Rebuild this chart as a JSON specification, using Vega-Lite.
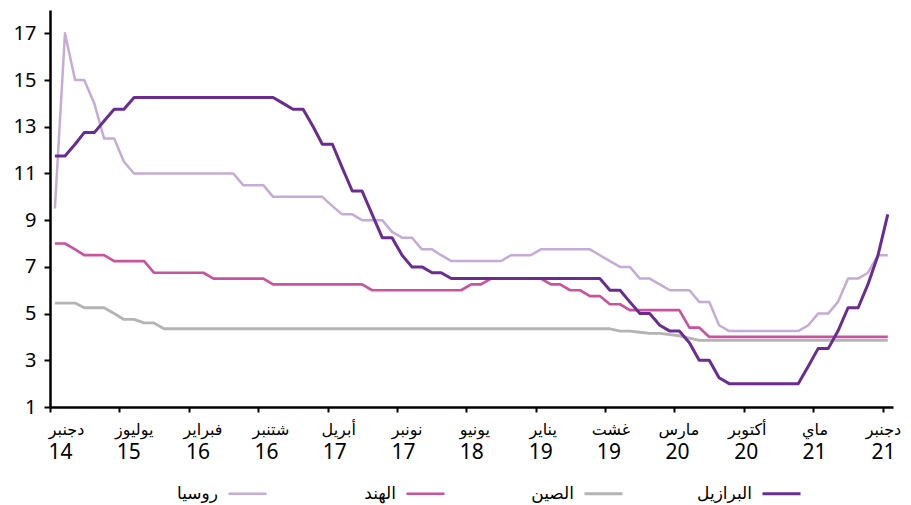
{
  "$schema": "https://vega.github.io/schema/vega-lite/v6.json",
  "width": 843,
  "height": 397,
  "autosize": {"type": "none"},
  "padding": {"left": 50, "top": 10, "right": 18, "bottom": 98},
  "background": "white",
  "config": {"view": {"stroke": null}, "font": "Noto Sans, DejaVu Sans"},
  "data": {"values": [
    {"d": "2014-12-16", "روسيا": 9.5, "الهند": 8.0, "الصين": 5.45, "البرازيل": 11.75},
    {"d": "2015-01-16", "روسيا": 17, "الهند": 8.0, "الصين": 5.45, "البرازيل": 11.75},
    {"d": "2015-02-16", "روسيا": 15, "الهند": 7.75, "الصين": 5.45, "البرازيل": 12.25},
    {"d": "2015-03-16", "روسيا": 15, "الهند": 7.5, "الصين": 5.25, "البرازيل": 12.75},
    {"d": "2015-04-16", "روسيا": 14, "الهند": 7.5, "الصين": 5.25, "البرازيل": 12.75},
    {"d": "2015-05-16", "روسيا": 12.5, "الهند": 7.5, "الصين": 5.25, "البرازيل": 13.25},
    {"d": "2015-06-16", "روسيا": 12.5, "الهند": 7.25, "الصين": 5.0, "البرازيل": 13.75},
    {"d": "2015-07-16", "روسيا": 11.5, "الهند": 7.25, "الصين": 4.75, "البرازيل": 13.75},
    {"d": "2015-08-16", "روسيا": 11, "الهند": 7.25, "الصين": 4.75, "البرازيل": 14.25},
    {"d": "2015-09-16", "روسيا": 11, "الهند": 7.25, "الصين": 4.6, "البرازيل": 14.25},
    {"d": "2015-10-16", "روسيا": 11, "الهند": 6.75, "الصين": 4.6, "البرازيل": 14.25},
    {"d": "2015-11-16", "روسيا": 11, "الهند": 6.75, "الصين": 4.35, "البرازيل": 14.25},
    {"d": "2015-12-16", "روسيا": 11, "الهند": 6.75, "الصين": 4.35, "البرازيل": 14.25},
    {"d": "2016-01-16", "روسيا": 11, "الهند": 6.75, "الصين": 4.35, "البرازيل": 14.25},
    {"d": "2016-02-16", "روسيا": 11, "الهند": 6.75, "الصين": 4.35, "البرازيل": 14.25},
    {"d": "2016-03-16", "روسيا": 11, "الهند": 6.75, "الصين": 4.35, "البرازيل": 14.25},
    {"d": "2016-04-16", "روسيا": 11, "الهند": 6.5, "الصين": 4.35, "البرازيل": 14.25},
    {"d": "2016-05-16", "روسيا": 11, "الهند": 6.5, "الصين": 4.35, "البرازيل": 14.25},
    {"d": "2016-06-16", "روسيا": 11, "الهند": 6.5, "الصين": 4.35, "البرازيل": 14.25},
    {"d": "2016-07-16", "روسيا": 10.5, "الهند": 6.5, "الصين": 4.35, "البرازيل": 14.25},
    {"d": "2016-08-16", "روسيا": 10.5, "الهند": 6.5, "الصين": 4.35, "البرازيل": 14.25},
    {"d": "2016-09-16", "روسيا": 10.5, "الهند": 6.5, "الصين": 4.35, "البرازيل": 14.25},
    {"d": "2016-10-16", "روسيا": 10, "الهند": 6.25, "الصين": 4.35, "البرازيل": 14.25},
    {"d": "2016-11-16", "روسيا": 10, "الهند": 6.25, "الصين": 4.35, "البرازيل": 14.0},
    {"d": "2016-12-16", "روسيا": 10, "الهند": 6.25, "الصين": 4.35, "البرازيل": 13.75},
    {"d": "2017-01-16", "روسيا": 10, "الهند": 6.25, "الصين": 4.35, "البرازيل": 13.75},
    {"d": "2017-02-16", "روسيا": 10, "الهند": 6.25, "الصين": 4.35, "البرازيل": 13.0},
    {"d": "2017-03-16", "روسيا": 10, "الهند": 6.25, "الصين": 4.35, "البرازيل": 12.25},
    {"d": "2017-04-16", "روسيا": 9.6, "الهند": 6.25, "الصين": 4.35, "البرازيل": 12.25},
    {"d": "2017-05-16", "روسيا": 9.25, "الهند": 6.25, "الصين": 4.35, "البرازيل": 11.25},
    {"d": "2017-06-16", "روسيا": 9.25, "الهند": 6.25, "الصين": 4.35, "البرازيل": 10.25},
    {"d": "2017-07-16", "روسيا": 9.0, "الهند": 6.25, "الصين": 4.35, "البرازيل": 10.25},
    {"d": "2017-08-16", "روسيا": 9.0, "الهند": 6.0, "الصين": 4.35, "البرازيل": 9.25},
    {"d": "2017-09-16", "روسيا": 9.0, "الهند": 6.0, "الصين": 4.35, "البرازيل": 8.25},
    {"d": "2017-10-16", "روسيا": 8.5, "الهند": 6.0, "الصين": 4.35, "البرازيل": 8.25},
    {"d": "2017-11-16", "روسيا": 8.25, "الهند": 6.0, "الصين": 4.35, "البرازيل": 7.5},
    {"d": "2017-12-16", "روسيا": 8.25, "الهند": 6.0, "الصين": 4.35, "البرازيل": 7.0},
    {"d": "2018-01-16", "روسيا": 7.75, "الهند": 6.0, "الصين": 4.35, "البرازيل": 7.0},
    {"d": "2018-02-16", "روسيا": 7.75, "الهند": 6.0, "الصين": 4.35, "البرازيل": 6.75},
    {"d": "2018-03-16", "روسيا": 7.5, "الهند": 6.0, "الصين": 4.35, "البرازيل": 6.75},
    {"d": "2018-04-16", "روسيا": 7.25, "الهند": 6.0, "الصين": 4.35, "البرازيل": 6.5},
    {"d": "2018-05-16", "روسيا": 7.25, "الهند": 6.0, "الصين": 4.35, "البرازيل": 6.5},
    {"d": "2018-06-16", "روسيا": 7.25, "الهند": 6.25, "الصين": 4.35, "البرازيل": 6.5},
    {"d": "2018-07-16", "روسيا": 7.25, "الهند": 6.25, "الصين": 4.35, "البرازيل": 6.5},
    {"d": "2018-08-16", "روسيا": 7.25, "الهند": 6.5, "الصين": 4.35, "البرازيل": 6.5},
    {"d": "2018-09-16", "روسيا": 7.25, "الهند": 6.5, "الصين": 4.35, "البرازيل": 6.5},
    {"d": "2018-10-16", "روسيا": 7.5, "الهند": 6.5, "الصين": 4.35, "البرازيل": 6.5},
    {"d": "2018-11-16", "روسيا": 7.5, "الهند": 6.5, "الصين": 4.35, "البرازيل": 6.5},
    {"d": "2018-12-16", "روسيا": 7.5, "الهند": 6.5, "الصين": 4.35, "البرازيل": 6.5},
    {"d": "2019-01-16", "روسيا": 7.75, "الهند": 6.5, "الصين": 4.35, "البرازيل": 6.5},
    {"d": "2019-02-16", "روسيا": 7.75, "الهند": 6.25, "الصين": 4.35, "البرازيل": 6.5},
    {"d": "2019-03-16", "روسيا": 7.75, "الهند": 6.25, "الصين": 4.35, "البرازيل": 6.5},
    {"d": "2019-04-16", "روسيا": 7.75, "الهند": 6.0, "الصين": 4.35, "البرازيل": 6.5},
    {"d": "2019-05-16", "روسيا": 7.75, "الهند": 6.0, "الصين": 4.35, "البرازيل": 6.5},
    {"d": "2019-06-16", "روسيا": 7.75, "الهند": 5.75, "الصين": 4.35, "البرازيل": 6.5},
    {"d": "2019-07-16", "روسيا": 7.5, "الهند": 5.75, "الصين": 4.35, "البرازيل": 6.5},
    {"d": "2019-08-16", "روسيا": 7.25, "الهند": 5.4, "الصين": 4.35, "البرازيل": 6.0},
    {"d": "2019-09-16", "روسيا": 7.0, "الهند": 5.4, "الصين": 4.25, "البرازيل": 6.0},
    {"d": "2019-10-16", "روسيا": 7.0, "الهند": 5.15, "الصين": 4.25, "البرازيل": 5.5},
    {"d": "2019-11-16", "روسيا": 6.5, "الهند": 5.15, "الصين": 4.2, "البرازيل": 5.0},
    {"d": "2019-12-16", "روسيا": 6.5, "الهند": 5.15, "الصين": 4.15, "البرازيل": 5.0},
    {"d": "2020-01-16", "روسيا": 6.25, "الهند": 5.15, "الصين": 4.15, "البرازيل": 4.5},
    {"d": "2020-02-16", "روسيا": 6.0, "الهند": 5.15, "الصين": 4.1, "البرازيل": 4.25},
    {"d": "2020-03-16", "روسيا": 6.0, "الهند": 5.15, "الصين": 4.05, "البرازيل": 4.25},
    {"d": "2020-04-16", "روسيا": 6.0, "الهند": 4.4, "الصين": 3.95, "البرازيل": 3.75},
    {"d": "2020-05-16", "روسيا": 5.5, "الهند": 4.4, "الصين": 3.85, "البرازيل": 3.0},
    {"d": "2020-06-16", "روسيا": 5.5, "الهند": 4.0, "الصين": 3.85, "البرازيل": 3.0},
    {"d": "2020-07-16", "روسيا": 4.5, "الهند": 4.0, "الصين": 3.85, "البرازيل": 2.25},
    {"d": "2020-08-16", "روسيا": 4.25, "الهند": 4.0, "الصين": 3.85, "البرازيل": 2.0},
    {"d": "2020-09-16", "روسيا": 4.25, "الهند": 4.0, "الصين": 3.85, "البرازيل": 2.0},
    {"d": "2020-10-16", "روسيا": 4.25, "الهند": 4.0, "الصين": 3.85, "البرازيل": 2.0},
    {"d": "2020-11-16", "روسيا": 4.25, "الهند": 4.0, "الصين": 3.85, "البرازيل": 2.0},
    {"d": "2020-12-16", "روسيا": 4.25, "الهند": 4.0, "الصين": 3.85, "البرازيل": 2.0},
    {"d": "2021-01-16", "روسيا": 4.25, "الهند": 4.0, "الصين": 3.85, "البرازيل": 2.0},
    {"d": "2021-02-16", "روسيا": 4.25, "الهند": 4.0, "الصين": 3.85, "البرازيل": 2.0},
    {"d": "2021-03-16", "روسيا": 4.25, "الهند": 4.0, "الصين": 3.85, "البرازيل": 2.0},
    {"d": "2021-04-16", "روسيا": 4.5, "الهند": 4.0, "الصين": 3.85, "البرازيل": 2.75},
    {"d": "2021-05-16", "روسيا": 5.0, "الهند": 4.0, "الصين": 3.85, "البرازيل": 3.5},
    {"d": "2021-06-16", "روسيا": 5.0, "الهند": 4.0, "الصين": 3.85, "البرازيل": 3.5},
    {"d": "2021-07-16", "روسيا": 5.5, "الهند": 4.0, "الصين": 3.85, "البرازيل": 4.25},
    {"d": "2021-08-16", "روسيا": 6.5, "الهند": 4.0, "الصين": 3.85, "البرازيل": 5.25},
    {"d": "2021-09-16", "روسيا": 6.5, "الهند": 4.0, "الصين": 3.85, "البرازيل": 5.25},
    {"d": "2021-10-16", "روسيا": 6.75, "الهند": 4.0, "الصين": 3.85, "البرازيل": 6.25},
    {"d": "2021-11-16", "روسيا": 7.5, "الهند": 4.0, "الصين": 3.85, "البرازيل": 7.5},
    {"d": "2021-12-16", "روسيا": 7.5, "الهند": 4.0, "الصين": 3.85, "البرازيل": 9.25}
  ]},
  "transform": [{"fold": ["روسيا", "الهند", "الصين", "البرازيل"], "as": ["s", "v"]}],
  "resolve": {"axis": {"x": "independent"}},
  "layer": [
    {
      "mark": {"type": "line", "strokeJoin": "round"},
      "encoding": {
        "x": {
          "field": "d", "type": "temporal",
          "scale": {"type": "utc", "domain": [{"year": 2014, "month": 12, "date": 1, "utc": true}, {"year": 2022, "month": 1, "date": 1, "utc": true}]},
          "axis": {
            "orient": "bottom", "title": null, "grid": false,
            "values": [
              {"year": 2014, "month": 12, "date": 1, "utc": true},
              {"year": 2015, "month": 7, "date": 1, "utc": true},
              {"year": 2016, "month": 2, "date": 1, "utc": true},
              {"year": 2016, "month": 9, "date": 1, "utc": true},
              {"year": 2017, "month": 4, "date": 1, "utc": true},
              {"year": 2017, "month": 11, "date": 1, "utc": true},
              {"year": 2018, "month": 6, "date": 1, "utc": true},
              {"year": 2019, "month": 1, "date": 1, "utc": true},
              {"year": 2019, "month": 8, "date": 1, "utc": true},
              {"year": 2020, "month": 3, "date": 1, "utc": true},
              {"year": 2020, "month": 10, "date": 1, "utc": true},
              {"year": 2021, "month": 5, "date": 1, "utc": true},
              {"year": 2021, "month": 12, "date": 1, "utc": true}
            ],
            "labelExpr": "['يناير','فبراير','مارس','أبريل','ماي','يونيو','يوليوز','غشت','شتنبر','أكتوبر','نونبر','دجنبر'][utcmonth(datum.value)]",
            "labelOffset": {"condition": {"test": "datum.value < 0", "value": 0}, "expr": "16 * (1 - (datum.value - 1417392000000) / (1638316800000 - 1417392000000))"},
            "labelFlush": false, "labelOverlap": false, "labelAngle": 0,
            "labelFontSize": 16, "labelColor": "black", "labelBaseline": "alphabetic", "labelPadding": 22,
            "domainColor": "black", "domainWidth": 2.5, "tickColor": "black", "tickWidth": 2, "tickSize": 5
          }
        },
        "y": {
          "field": "v", "type": "quantitative",
          "scale": {"domain": [1, 18], "nice": false, "zero": false},
          "axis": {
            "title": null, "grid": false, "values": [1, 3, 5, 7, 9, 11, 13, 15, 17],
            "labelFontSize": 20, "labelColor": "black", "labelPadding": 8,
            "domainColor": "black", "domainWidth": 2.5, "tickColor": "black", "tickWidth": 2, "tickSize": 6
          }
        },
        "color": {
          "field": "s", "type": "nominal",
          "scale": {"domain": ["روسيا", "الهند", "الصين", "البرازيل"], "range": ["#c5acd7", "#c9539f", "#b4b4b4", "#6b2c91"]},
          "legend": {
            "orient": "none", "legendX": 177, "legendY": 463, "direction": "horizontal", "title": null,
            "symbolType": "stroke", "symbolSize": 1444, "symbolStrokeWidth": 3,
            "labelFontSize": 17, "labelColor": "black", "labelAlign": "right", "labelOffset": -50,
            "gridAlign": "all", "columnPadding": 68, "labelLimit": 300
          }
        },
        "strokeWidth": {
          "field": "s", "type": "nominal",
          "scale": {"domain": ["روسيا", "الهند", "الصين", "البرازيل"], "range": [2.5, 3, 2.5, 2.8]},
          "legend": null
        }
      }
    },
    {
      "mark": {"type": "line", "opacity": 0},
      "encoding": {
        "x": {
          "field": "d", "type": "temporal",
          "axis": {
            "orient": "bottom", "title": null, "grid": false, "domain": false, "ticks": false,
            "values": [
              {"year": 2014, "month": 12, "date": 1, "utc": true},
              {"year": 2015, "month": 7, "date": 1, "utc": true},
              {"year": 2016, "month": 2, "date": 1, "utc": true},
              {"year": 2016, "month": 9, "date": 1, "utc": true},
              {"year": 2017, "month": 4, "date": 1, "utc": true},
              {"year": 2017, "month": 11, "date": 1, "utc": true},
              {"year": 2018, "month": 6, "date": 1, "utc": true},
              {"year": 2019, "month": 1, "date": 1, "utc": true},
              {"year": 2019, "month": 8, "date": 1, "utc": true},
              {"year": 2020, "month": 3, "date": 1, "utc": true},
              {"year": 2020, "month": 10, "date": 1, "utc": true},
              {"year": 2021, "month": 5, "date": 1, "utc": true},
              {"year": 2021, "month": 12, "date": 1, "utc": true}
            ],
            "labelExpr": "'' + (utcyear(datum.value) % 100)",
            "labelOffset": {"condition": {"test": "datum.value < 0", "value": 0}, "expr": "10 * (1 - (datum.value - 1417392000000) / (1638316800000 - 1417392000000))"},
            "labelFlush": false, "labelOverlap": false, "labelAngle": 0,
            "labelFontSize": 21, "labelColor": "black", "labelBaseline": "alphabetic", "labelPadding": 51
          }
        },
        "y": {"field": "v", "type": "quantitative"},
        "detail": {"field": "s", "type": "nominal"}
      }
    }
  ]
}
